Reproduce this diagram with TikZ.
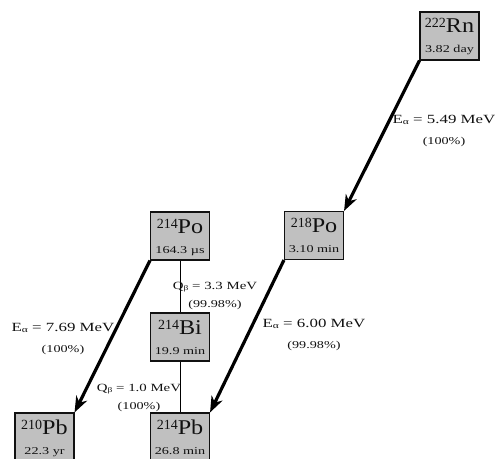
\documentclass[tikz,border=0pt]{standalone}
\usepackage{fontspec}
\setmainfont{Liberation Serif}
\newfontfamily\wideserif{Liberation Serif}[FakeStretch=1.35]
\newfontfamily\symserif{Liberation Serif}[FakeStretch=1.15]
\usetikzlibrary{arrows.meta}
\definecolor{cInk}{HTML}{111111}
\definecolor{cBox}{HTML}{C0C0C0}
% nuclide box content: mass number, symbol, half-life
\newcommand{\nuc}[3]{\rule{0pt}{19bp}\raisebox{5bp}{\fontsize{14bp}{14bp}\selectfont #1}{\symserif\fontsize{21bp}{21bp}\selectfont #2}\\{\wideserif\fontsize{10.5bp}{12bp}\selectfont #3}\rule[-5bp]{0pt}{0pt}}
\newcommand{\Ea}{E\raisebox{-1bp}{\fontsize{8.5bp}{8.5bp}\selectfont α}}
\newcommand{\Qb}{Q\raisebox{-1.5bp}{\fontsize{7bp}{7bp}\selectfont β}}
\newcommand{\brfont}{\wideserif\fontsize{10.5bp}{10bp}\selectfont}
\tikzset{
  every node/.style={text=cInk, inner sep=0pt},
  nucb/.style={draw=cInk, line width=1.1bp, fill=cBox, minimum width=59bp, minimum height=48bp, align=center, font=\fontsize{12bp}{20bp}\selectfont},
  elab/.style={font=\wideserif\fontsize{12.5bp}{21bp}\selectfont, align=center, anchor=base},
  qlab/.style={font=\wideserif\fontsize{11bp}{18bp}\selectfont, align=center, anchor=base},
  adec/.style={-{Stealth[length=16bp,width=12bp,inset=5bp]}, line width=3.2bp, draw=black},
  bdec/.style={line width=1bp, draw=black},
}
\begin{document}
\begin{tikzpicture}[x=1bp,y=-1bp]
\useasboundingbox (0,0) rectangle (497,459);
% nuclides
\node[nucb] (rn)    at (449.5,36)  {\nuc{222}{Rn}{3.82 day}};
\node[nucb] (po218) at (314,235.5) {\nuc{218}{Po}{3.10 min}};
\node[nucb] (po214) at (180,236)   {\nuc{214}{Po}{164.3 µs}};
\node[nucb] (bi)    at (180,337)   {\nuc{214}{Bi}{19.9 min}};
\node[nucb] (pb210) at (44.5,437)  {\nuc{210}{Pb}{22.3 yr}};
\node[nucb] (pb214) at (180,437)   {\nuc{214}{Pb}{26.8 min}};
% decays
\draw[adec] (rn.south west) -- (po218.north east);
\draw[adec] (po218.south west) -- (pb214.north east);
\draw[adec] (po214.south west) -- (pb210.north east);
\draw[bdec] (po214.south) -- (bi.north);
\draw[bdec] (bi.south) -- (pb214.north);
% energies and branchings (base = last line)
\node[elab] (e1) at (444,145) {\Ea\ = 5.49 MeV\\{\brfont (100\%)}};
\node[elab] (e2) at (314,348) {\Ea\ = 6.00 MeV\\{\brfont (99.98\%)}};
\node[elab] (e3) at (63,352)  {\Ea\ = 7.69 MeV\\{\brfont (100\%)}};
\node[qlab] (q1) at (215,307) {\Qb\ = 3.3 MeV\\{\brfont (99.98\%)}};
\node[qlab] (q2) at (139,409) {\Qb\ = 1.0 MeV\\{\brfont (100\%)}};
\end{tikzpicture}
\end{document}
